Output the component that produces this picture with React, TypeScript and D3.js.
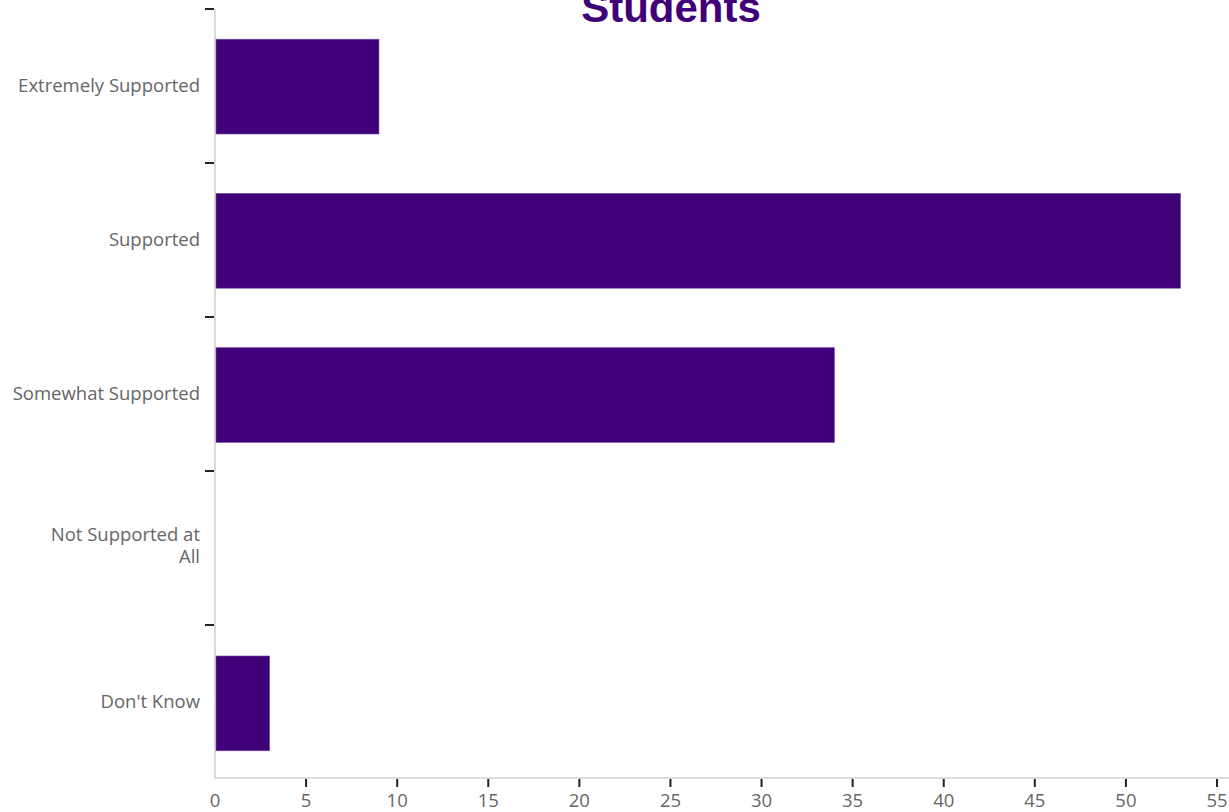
import React from "react";
import * as d3 from "d3";

const categories = ["Extremely Supported", "Supported", "Somewhat Supported", "Not Supported at All", "Don't Know"];
const categoryLines = [["Extremely Supported"], ["Supported"], ["Somewhat Supported"], ["Not Supported at", "All"], ["Don't Know"]];
const values = [9, 53, 34, 0, 3];
const xTicks = [0, 5, 10, 15, 20, 25, 30, 35, 40, 45, 50, 55];
const title = "Students";

export default function App() {
  const W = 1229, H = 812;
  const left = 215, right = 1217, top = 9, bottom = 778;
  const x = d3.scaleLinear().domain([0, 55]).range([left, right]);
  const y = d3.scaleBand<string>().domain(categories).range([top + 0.5, top + 0.5 + 5 * 154.2]).paddingInner(0.385).paddingOuter(0.1925);
  const yb = d3.scaleBand<string>().domain(categories).range([top, top + 5 * 154]);
  const barColor = "#3f0078";
  const font = "Open Sans, sans-serif";
  return (
    <svg width={W} height={H} style={{ position: "absolute", left: 0, top: 0, background: "#fff" }}>
      <text x={671} y={22} textAnchor="middle" fontFamily="Liberation Sans, Arial, sans-serif" fontWeight="bold" fontSize={42} fill="#3f0078">{title}</text>
      {/* y axis */}
      <line x1={left} x2={left} y1={top} y2={bottom} stroke="#cfcfcf" strokeWidth={1.5} />
      {categories.map((c, i) => (
        <line key={"yt" + i} x1={left - 10} x2={left - 1} y1={yb(c)!} y2={yb(c)!} stroke="#222" strokeWidth={2} />
      ))}
      {categories.map((c, i) => {
        const lines = categoryLines[i];
        const cy = y(c)! + y.bandwidth() / 2 - 1.5;
        const lh = 21.5;
        const y0 = cy - ((lines.length - 1) * lh) / 2 - (lines.length > 1 ? 2 : 0);
        return (
          <text key={"yl" + i} x={200} textAnchor="end" fontFamily={font} fontSize={18.5} fill="#666">
            {lines.map((l, j) => (
              <tspan key={j} x={200} y={y0 + j * lh} dy="0.35em">{l}</tspan>
            ))}
          </text>
        );
      })}
      {/* bars */}
      {categories.map((c, i) => values[i] > 0 && (
        <rect key={"b" + i} x={x(0) + 1} y={y(c)!} width={x(values[i]) - x(0) - 1} height={y.bandwidth()} fill={barColor} stroke="#7b55a8" strokeWidth={0.6} />
      ))}
      {/* x axis */}
      <line x1={left} x2={W} y1={bottom} y2={bottom} stroke="#cfcfcf" strokeWidth={1.5} />
      {xTicks.map((t) => (
        <g key={"xt" + t}>
          {t > 0 && <line x1={x(t)} x2={x(t)} y1={bottom + 1} y2={bottom + 9} stroke="#222" strokeWidth={2} />}
          <text x={x(t)} y={801} dy="0.35em" textAnchor="middle" fontFamily={font} fontSize={18.5} fill="#666">{t}</text>
        </g>
      ))}
    </svg>
  );
}
